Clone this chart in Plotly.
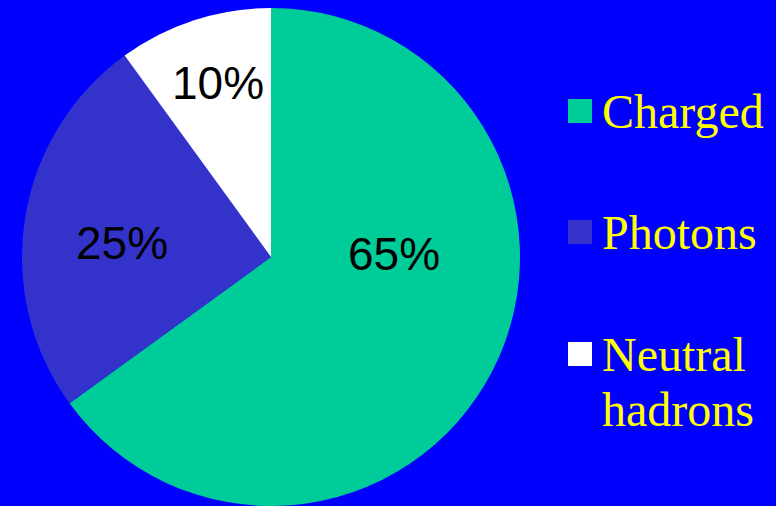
import plotly.graph_objects as go

# Share of jet energy carried by each particle type
categories = ["Charged", "Photons", "Neutral hadrons"]
shares = [65, 25, 10]
colors = ["#00CC99", "#3333CC", "#FFFFFF"]

W, H = 776, 506
BG = "#0000FF"

# Pie placement (pixels)
cx, cy, r = 271, 257, 249

fig = go.Figure(
    go.Pie(
        labels=categories,
        values=shares,
        sort=False,
        direction="clockwise",
        rotation=0,
        marker=dict(colors=colors, line=dict(width=0)),
        textinfo="none",
        hoverinfo="label+percent",
        showlegend=False,
        domain=dict(x=[(cx - r) / W, (cx + r) / W], y=[(H - cy - r) / H, (H - cy + r) / H]),
    )
)

def px(x, y):
    return x / W, 1 - y / H

# Percentage labels inside slices
label_pos = [(394, 254), (122, 243), (218, 83)]
annotations = []
for v, (lx, ly) in zip(shares, label_pos):
    ax, ay = px(lx, ly)
    annotations.append(dict(
        x=ax, y=ay, xref="paper", yref="paper", showarrow=False,
        text=f"{v}%", xanchor="center", yanchor="middle",
        font=dict(family="Liberation Sans, Arial, sans-serif", size=46, color="#000000"),
    ))

# Custom legend: coloured squares with serif labels
legend_rows = [111, 232, 354]
line_gap = 55
shapes = []
for cat, col, ry in zip(categories, colors, legend_rows):
    x0, y0 = px(568, ry - 12)
    x1, y1 = px(592, ry + 12)
    shapes.append(dict(type="rect", xref="paper", yref="paper",
                       x0=x0, x1=x1, y0=y1, y1=y0,
                       fillcolor=col, line=dict(width=0)))
    for i, word in enumerate(cat.split(" ")):
        tx, ty = px(600, ry + i * line_gap)
        annotations.append(dict(
            x=tx, y=ty, xref="paper", yref="paper", showarrow=False,
            text=word, xanchor="left", yanchor="middle",
            font=dict(family="Liberation Serif, Times New Roman, serif", size=48, color="#FFFF00"),
        ))

fig.update_layout(
    width=W, height=H,
    margin=dict(l=0, r=0, t=0, b=0),
    paper_bgcolor=BG, plot_bgcolor=BG,
    annotations=annotations, shapes=shapes,
)

fig.write_html("out.html")
